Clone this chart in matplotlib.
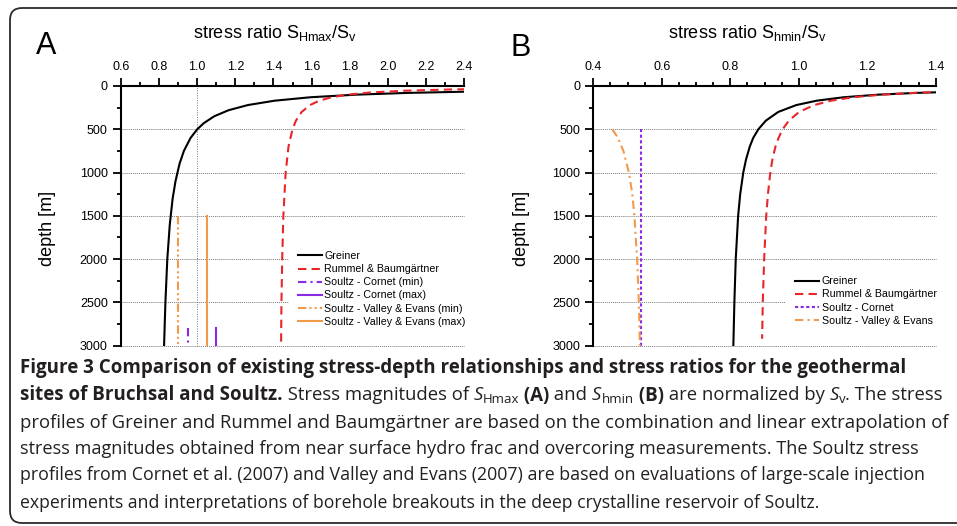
import matplotlib
matplotlib.use('Agg')
import matplotlib.pyplot as plt
import numpy as np
from matplotlib import rcParams
from matplotlib.ticker import MultipleLocator, FormatStrFormatter
from matplotlib.patches import FancyBboxPatch

#---- data (depth in m, stress ratio) ----#

# panel A : SHmax / Sv
greinerA_depth = [45, 60, 80, 100, 130, 170, 220, 280, 350, 430, 500, 600, 750, 900, 1100, 1300, 1600, 2000, 2500, 3000]
greinerA_ratio = [3.11, 2.53, 2.10, 1.835, 1.594, 1.405, 1.266, 1.164, 1.089, 1.034, 1.000, 0.965, 0.930, 0.907, 0.886, 0.871, 0.856, 0.843, 0.833, 0.826]

rummelA_depth = [15, 20, 30, 40, 55, 75, 100, 130, 170, 220, 300, 400, 500, 700, 1000, 1500, 2000, 2500, 3000]
rummelA_ratio = [3.83, 3.23, 2.628, 2.328, 2.083, 1.908, 1.788, 1.705, 1.640, 1.592, 1.548, 1.518, 1.500, 1.479, 1.464, 1.452, 1.446, 1.442, 1.440]

cornetA_min_depth = [2800, 2970]
cornetA_min_ratio = [0.95, 0.95]
cornetA_max_depth = [2800, 3000]
cornetA_max_ratio = [1.10, 1.10]
valleyA_min_depth = [1500, 3000]
valleyA_min_ratio = [0.90, 0.90]
valleyA_max_depth = [1500, 3000]
valleyA_max_ratio = [1.05, 1.05]

# panel B : Shmin / Sv
greinerB_depth = [25, 30, 40, 50, 65, 80, 100, 130, 170, 220, 300, 400, 500, 600, 700, 850, 1000, 1250, 1500, 2000, 2500, 3000]
greinerB_ratio = [2.546, 2.254, 1.889, 1.670, 1.468, 1.342, 1.232, 1.131, 1.052, 0.993, 0.940, 0.904, 0.882, 0.867, 0.857, 0.846, 0.838, 0.829, 0.823, 0.816, 0.812, 0.809]

rummelB_depth = [25, 30, 40, 50, 65, 80, 100, 130, 170, 220, 300, 400, 500, 600, 700, 850, 1000, 1250, 1500, 2000, 2500, 2920]
rummelB_ratio = [2.33, 2.089, 1.787, 1.606, 1.438, 1.334, 1.243, 1.159, 1.094, 1.045, 1.001, 0.971, 0.953, 0.941, 0.932, 0.923, 0.917, 0.910, 0.905, 0.899, 0.895, 0.893]

cornetB_depth = [500, 3000]
cornetB_ratio = [0.54, 0.54]

valleyB_depth = [500, 600, 750, 1000, 1250, 1500, 2000, 2500, 3000]
valleyB_ratio = [0.456, 0.472, 0.488, 0.504, 0.514, 0.520, 0.528, 0.533, 0.536]

labelsA = ['Greiner', 'Rummel & Baumgärtner', 'Soultz - Cornet (min)', 'Soultz - Cornet (max)',
           'Soultz - Valley & Evans (min)', 'Soultz - Valley & Evans (max)']
labelsB = ['Greiner', 'Rummel & Baumgärtner', 'Soultz - Cornet', 'Soultz - Valley & Evans']

#---- style ----#
params = {'font.family': 'Liberation Sans',
          'mathtext.fontset': 'custom',
          'mathtext.rm': 'Liberation Sans',
          'mathtext.it': 'Liberation Sans:italic',
          'axes.linewidth': 1.5}
rcParams.update(params)

c_black = '#000000'
c_red = '#e8262a'
c_purple = '#8a2be2'
c_orange = '#f2994a'
c_grid = '#7a7a7a'
c_text = '#231f20'
lw = 1.5

W, H = 957, 526
fig = plt.figure(figsize=(W / 100, H / 100), dpi=100)


def px_axes(l, t, r, b):
    return fig.add_axes([l / W, 1 - b / H, (r - l) / W, (b - t) / H])


def style_axes(ax, xlim, xmaj, xmin):
    ax.set_xlim(xlim)
    ax.set_ylim(3000, 0)
    ax.xaxis.tick_top()
    ax.spines['right'].set_visible(False)
    ax.spines['bottom'].set_visible(False)
    ax.xaxis.set_major_locator(MultipleLocator(xmaj))
    ax.xaxis.set_minor_locator(MultipleLocator(xmin))
    ax.yaxis.set_major_locator(MultipleLocator(500))
    ax.yaxis.set_minor_locator(MultipleLocator(250))
    ax.xaxis.set_major_formatter(FormatStrFormatter('%.1f'))
    ax.tick_params(which='major', direction='out', length=5.5, width=1.3, labelsize=9, pad=4)
    ax.tick_params(which='minor', direction='out', length=3, width=1.3)
    ax.grid(axis='y', which='major', ls=(0, (1, 1)), color=c_grid, lw=0.7)
    ax.set_axisbelow(True)
    for gl in ax.get_ygridlines():
        gl.set_clip_on(False)


def legend_box(ax, anchor):
    leg = ax.legend(loc='upper left', bbox_to_anchor=anchor, fontsize=7.7, frameon=True,
                    borderpad=0.8, borderaxespad=0, handlelength=2.3, handletextpad=0.2, labelspacing=0.29)
    leg.get_frame().set_edgecolor('none')
    leg.get_frame().set_facecolor('white')
    leg.get_frame().set_alpha(1.0)
    leg.get_frame().set_boxstyle('square', pad=0)
    return leg


#---- panel A ----#
axA = px_axes(121, 86, 464, 345.7)
style_axes(axA, (0.6, 2.4), 0.2, 0.1)
axA.axvline(1.0, color=c_grid, lw=0.7, ls=(0, (1, 1.5)), zorder=1)
axA.plot(greinerA_ratio, greinerA_depth, color=c_black, lw=lw, label=labelsA[0])
axA.plot(rummelA_ratio, rummelA_depth, color=c_red, lw=lw, dashes=(4, 2.5), label=labelsA[1])
axA.plot(cornetA_min_ratio, cornetA_min_depth, color=c_purple, lw=lw, dashes=(4, 2, 1, 2), label=labelsA[2])
axA.plot(cornetA_max_ratio, cornetA_max_depth, color=c_purple, lw=lw, label=labelsA[3])
axA.plot(valleyA_min_ratio, valleyA_min_depth, color=c_orange, lw=lw, dashes=(4, 1.5, 1, 1.5, 1, 1.5), label=labelsA[4])
axA.plot(valleyA_max_ratio, valleyA_max_depth, color=c_orange, lw=lw, label=labelsA[5])
legend_box(axA, (0.49, 0.397))

#---- panel B ----#
axB = px_axes(593.3, 86, 935.7, 345.7)
style_axes(axB, (0.4, 1.4), 0.2, 0.05)
axB.plot(greinerB_ratio, greinerB_depth, color=c_black, lw=lw, label=labelsB[0])
axB.plot(rummelB_ratio, rummelB_depth, color=c_red, lw=lw, dashes=(4, 2.5), label=labelsB[1])
axB.plot(cornetB_ratio, cornetB_depth, color=c_purple, lw=lw, dashes=(1.5, 1.2), label=labelsB[2])
axB.plot(valleyB_ratio, valleyB_depth, color=c_orange, lw=lw, dashes=(4, 2, 1, 2), label=labelsB[3])
legend_box(axB, (0.5637, 0.300))

#---- panel titles / labels ----#
fig.text(275.5 / W, 1 - 33 / H, r'stress ratio S$_\mathrm{Hmax}$/S$_\mathrm{v}$', ha='center', va='center', fontsize=13)
fig.text(747.5 / W, 1 - 33 / H, r'stress ratio S$_\mathrm{hmin}$/S$_\mathrm{v}$', ha='center', va='center', fontsize=13)
fig.text(47 / W, 1 - 228 / H, 'depth [m]', rotation=90, ha='center', va='center', fontsize=13)
fig.text(521 / W, 1 - 228 / H, 'depth [m]', rotation=90, ha='center', va='center', fontsize=13)
fig.text(46.5 / W, 1 - 46 / H, 'A', ha='center', va='center', fontsize=22)
fig.text(520.5 / W, 1 - 47.5 / H, 'B', ha='center', va='center', fontsize=22)

#---- border ----#
border = FancyBboxPatch((10, 3), 970, 515, boxstyle='round,pad=0,rounding_size=12',
                        transform=None, fill=False, edgecolor='#2b2b2b', lw=1.3)
fig.add_artist(border)

#---- caption ----#
renderer = fig.canvas.get_renderer()
cap_size = 13.3
cap_bold = 13.5


def advance(s, **kw):
    t1 = fig.text(0, 0, s + '|', **kw)
    t2 = fig.text(0, 0, '|', **kw)
    w = t1.get_window_extent(renderer).width - t2.get_window_extent(renderer).width
    t1.remove()
    t2.remove()
    return w


def run_kw(weight, style, scale, fit):
    size = (cap_bold if weight == 'bold' else cap_size) * scale * fit
    return dict(family='Open Sans', fontsize=size, fontweight=weight, fontstyle=style, color=c_text)


def put_runs(y_base, right, runs, x0=20):
    # shrink the line slightly when it runs past the right end seen in the reference
    total = sum(advance(s, **run_kw(wt, st, sc, 1.0)) for s, wt, st, sc, dy in runs)
    fit = min(1.0, (right - x0) / total)
    x = x0
    for s, wt, st, sc, dy in runs:
        kw = run_kw(wt, st, sc, fit)
        fig.text(x / W, 1 - (y_base - dy) / H, s, ha='left', va='baseline', **kw)
        x += advance(s, **kw)


N, B, I = 'normal', 'bold', 'italic'
sub = 0.72
put_runs(373.5, 909, [('Figure 3 Comparison of existing stress-depth relationships and stress ratios for the geothermal', B, N, 1, 0)])
put_runs(400.5, 950, [('sites of Bruchsal and Soultz.', B, N, 1, 0),
                      (' Stress magnitudes of ', N, N, 1, 0),
                      ('S', N, I, 1, 0), ('Hmax', N, N, sub, -2.5),
                      (' (A)', B, N, 1, 0), (' and ', N, N, 1, 0),
                      ('S', N, I, 1, 0), ('hmin', N, N, sub, -2.5),
                      (' (B)', B, N, 1, 0), (' are normalized by ', N, N, 1, 0),
                      ('S', N, I, 1, 0), ('v', N, N, sub, -2.5),
                      ('. The stress', N, N, 1, 0)])
put_runs(427.5, 949, [('profiles of Greiner and Rummel and Baumgärtner are based on the combination and linear extrapolation of', N, N, 1, 0)])
put_runs(454.5, 920, [('stress magnitudes obtained from near surface hydro frac and overcoring measurements. The Soultz stress', N, N, 1, 0)])
put_runs(480.5, 925, [('profiles from Cornet et al. (2007) and Valley and Evans (2007) are based on evaluations of large-scale injection', N, N, 1, 0)])
put_runs(507.5, 822, [('experiments and interpretations of borehole breakouts in the deep crystalline reservoir of Soultz.', N, N, 1, 0)])

fig.savefig('out.png', dpi=100)
